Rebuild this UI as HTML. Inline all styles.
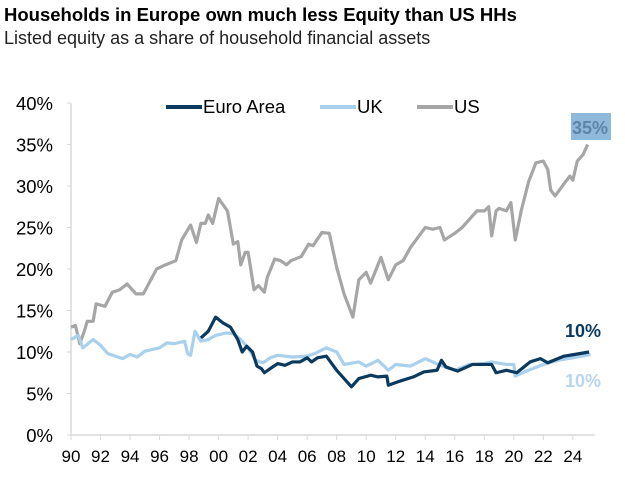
<!DOCTYPE html>
<html><head><meta charset="utf-8"><style>
body{margin:0;background:#fff;font-family:"Liberation Sans",sans-serif}
#wrap{position:relative;width:625px;height:488px;overflow:hidden}
.t{position:absolute;left:4px;top:4px;font-weight:bold;font-size:18.5px;color:#000;white-space:nowrap}
.s{position:absolute;left:4px;top:28px;font-size:18px;color:#222;white-space:nowrap}
</style></head><body><div id="wrap">
<div class="t">Households in Europe own much less Equity than US HHs</div>
<div class="s">Listed equity as a share of household financial assets</div>
<svg id="svg" width="625" height="488" style="position:absolute;left:0;top:0"></svg>
</div>
<script>
const yTicks=[0,5,10,15,20,25,30,35,40];
const xTickLabels=["90","92","94","96","98","00","02","04","06","08","10","12","14","16","18","20","22","24"];
const usYears=[1990,1990.3,1990.6,1990.9,1991.1,1991.5,1991.7,1992.3,1992.8,1993.3,1993.8,1994.4,1994.9,1995.8,1996.4,1997.1,1997.5,1998.1,1998.5,1998.8,1999.1,1999.3,1999.6,2000,2000.6,2001,2001.3,2001.5,2001.8,2002,2002.4,2002.7,2003.1,2003.3,2003.8,2004.2,2004.6,2004.9,2005.6,2006.1,2006.4,2007,2007.5,2008,2008.5,2009.1,2009.5,2010,2010.3,2011,2011.5,2012,2012.5,2013,2014,2014.5,2015,2015.3,2016,2016.5,2017,2017.5,2018,2018.3,2018.5,2018.8,2019,2019.5,2019.8,2020.1,2020.5,2021,2021.5,2022,2022.3,2022.5,2022.8,2023.5,2023.8,2024,2024.3,2024.7,2025];
const usValues=[13,13.2,11,12.5,13.7,13.7,15.8,15.5,17.2,17.5,18.2,17,17,20,20.5,21,23.5,25.3,23.2,25.5,25.5,26.5,25.5,28.5,27,23,23.3,20.5,22,22,17.5,18,17.2,19,21.2,21,20.5,21,21.5,23,22.8,24.4,24.3,20.2,17,14.2,18.7,19.6,18.3,21.4,18.7,20.5,21,22.6,25,24.8,25,23.5,24.3,25,26,27,27,27.5,24,27,27.3,27,28,23.5,27,30.5,32.8,33,32,29.5,28.8,30.5,31.2,30.7,33,33.8,35];
const ukYears=[1990,1990.5,1990.8,1991.5,1992,1992.5,1993,1993.5,1994,1994.5,1995,1996,1996.5,1997,1997.7,1997.9,1998.1,1998.4,1998.8,1999.3,1999.8,2000.5,2001,2001.5,2002,2002.5,2003,2003.5,2004,2005,2006,2006.5,2007.3,2008,2008.5,2009.5,2010,2010.8,2011.5,2012,2013,2014,2015,2016,2017,2018,2018.5,2019.5,2020,2020.1,2021,2022,2023,2024,2025.2];
const ukValues=[11.5,12,10.5,11.5,10.8,9.8,9.5,9.2,9.7,9.4,10.1,10.5,11.1,11,11.3,9.8,9.6,12.5,11.3,11.5,12,12.3,12.2,11.5,10.5,9,8.7,9.3,9.6,9.4,9.5,9.8,10.5,10,8.5,8.8,8.3,9,7.8,8.5,8.3,9.2,8.4,7.8,8.5,8.6,8.8,8.5,8.5,7.1,7.8,8.5,9,9.3,9.7];
const euYears=[1998.8,1999.3,1999.8,2000.3,2000.8,2001.3,2001.6,2001.9,2002.3,2002.6,2002.9,2003.1,2003.5,2004,2004.5,2005,2005.5,2006,2006.3,2006.7,2007.3,2008,2009,2009.5,2010.3,2010.8,2011.4,2011.5,2012.3,2013.2,2013.9,2014.8,2015.1,2015.4,2016.2,2017.2,2018.5,2018.8,2019.5,2020.2,2021.1,2021.8,2022.3,2023.4,2024.1,2025.1];
const euValues=[11.7,12.5,14.2,13.5,13,11.5,10,10.7,10,8.3,8,7.5,8,8.6,8.4,8.8,8.8,9.3,8.8,9.3,9.5,7.8,5.8,6.8,7.2,7,7.1,6,6.5,7,7.6,7.8,9,8.2,7.7,8.5,8.5,7.5,7.8,7.5,8.8,9.2,8.7,9.5,9.7,10];
const svg=document.getElementById('svg');const NS='http://www.w3.org/2000/svg';
const X=y=>71+(y-1990)*14.76, Y=v=>435-v*8.3;
function el(t,a){const e=document.createElementNS(NS,t);for(const k in a)e.setAttribute(k,a[k]);svg.appendChild(e);return e;}
let e=el('line',{x1:71,y1:103,x2:71,y2:435,stroke:'#d9d9d9','stroke-width':1.5});

e=el('line',{x1:71,y1:435,x2:595,y2:435,stroke:'#d9d9d9','stroke-width':1.5});

yTicks.forEach(v=>{const t=el('text',{x:53,y:Y(v)+7,'text-anchor':'end','font-size':18.5,fill:'#000'});t.textContent=v+'%';

el('line',{x1:67,x2:71,y1:Y(v),y2:Y(v),stroke:'#d9d9d9'});});
xTickLabels.forEach((l,i)=>{const yr=1990+i*2;el('line',{x1:X(yr),x2:X(yr),y1:435,y2:440,stroke:'#d9d9d9'});
const t=el('text',{x:X(yr),y:462,'text-anchor':'middle','font-size':17,fill:'#000'});t.textContent=l;
});
function line(xs,vs,c,name){const p=el('polyline',{points:xs.map((x,i)=>X(x)+','+Y(vs[i])).join(' '),fill:'none',stroke:c,'stroke-width':3.2,'stroke-linejoin':'round'});
}
line(usYears,usValues,'#a6a6a6','us-line');
line(ukYears,ukValues,'#a9d0ec','uk-line');
line(euYears,euValues,'#0b3a5e','euro-area-line');
[['Euro Area','#0b3a5e',166],['UK','#a9d0ec',320],['US','#a6a6a6',417]].forEach(([n,c,x])=>{
const g=el('line',{x1:x,x2:x+36,y1:107,y2:107,stroke:c,'stroke-width':4});

const t=el('text',{x:x+37,y:113,'font-size':18.5,fill:'#000'});t.textContent=n;
});
e=el('rect',{x:571,y:113,width:40,height:27,fill:'#8fb9da'});
[['35%',572,134,'#5e84a6','us-end-label'],['10%',565,337,'#0b3a5e','euro-end-label'],['10%',565,387,'#b8d7ee','uk-end-label']].forEach(([s,x,y,c,n])=>{
const t=el('text',{x:x,y:y,'font-size':18,'font-weight':'bold',fill:c});t.textContent=s;
});
</script></body></html>
